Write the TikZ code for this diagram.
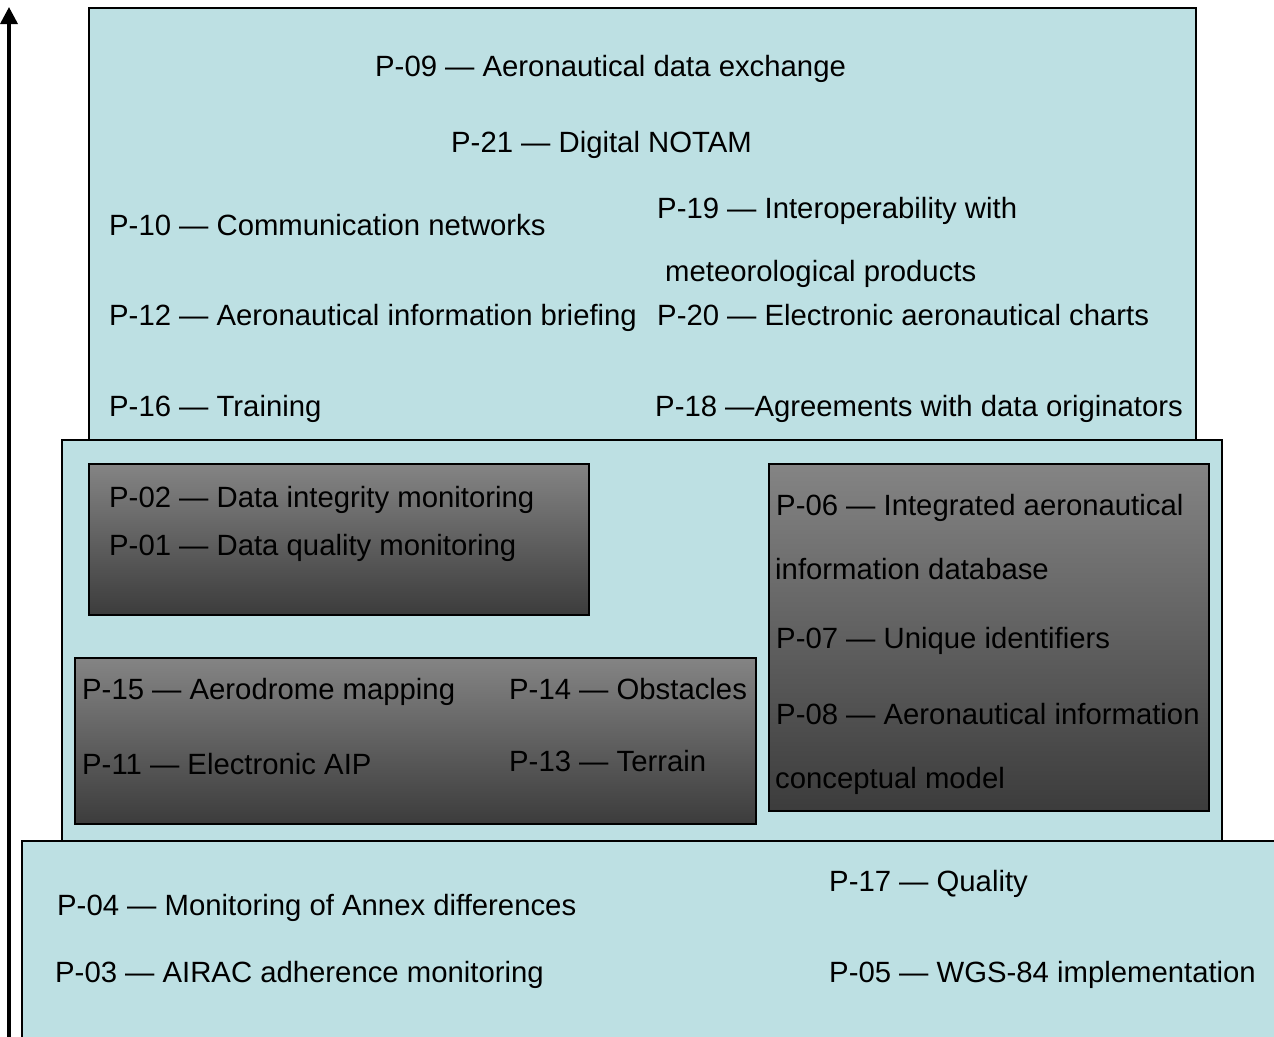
\documentclass[tikz,border=0pt]{standalone}
\usepackage{fontspec}
\setmainfont{Liberation Sans}
\usetikzlibrary{arrows.meta}
\definecolor{teal1}{RGB}{189,224,227}
\definecolor{gtop}{RGB}{132,132,132}
\definecolor{gbot}{RGB}{60,60,60}
\tikzset{
  lbox/.style={draw=black, line width=2pt, fill=teal1},
  dbox/.style={draw=black, line width=2pt, top color=gtop, bottom color=gbot},
  lbl/.style={anchor=base west, inner sep=0pt, text=black, font=\fontsize{29.3}{34}\selectfont},
}
\begin{document}
\begin{tikzpicture}[x=1pt,y=-1pt]
\useasboundingbox (0,0) rectangle (1274,1036);
% boxes
\path[lbox] (89,8) rectangle (1196,445);
\path[lbox] (62,440) rectangle (1222,845);
\path[lbox] (22,841) rectangle (1290,1050);
\path[dbox] (89,464) rectangle (589,615);
\path[dbox] (75,658) rectangle (756,824);
\path[dbox] (769,464) rectangle (1209,811);
% arrow
\coordinate (abot) at (9,1040);
\coordinate (atop) at (9,7);
\draw[line width=3.5pt, -{Triangle[width=17pt,length=17pt]}] (abot) -- (atop);
% top box texts
\node[lbl] (p09) at (375,76) {P-09 — Aeronautical data exchange};
\node[lbl] (p21) at (451,152) {P-21 — Digital NOTAM};
\node[lbl] (p10) at (109,235) {P-10 — Communication networks};
\node[lbl] (p19) at (657,218) {P-19 — Interoperability with};
\node[lbl] (p19b) at (665,281) {meteorological products};
\node[lbl] (p12) at (109,325) {P-12 — Aeronautical information briefing};
\node[lbl] (p20) at (657,325) {P-20 — Electronic aeronautical charts};
\node[lbl] (p16) at (109,416) {P-16 — Training};
\node[lbl] (p18) at (655,416) {P-18 —Agreements with data originators};
% middle
\node[lbl] (p02) at (109,507) {P-02 — Data integrity monitoring};
\node[lbl] (p01) at (109,555) {P-01 — Data quality monitoring};
\node[lbl] (p06) at (776,515) {P-06 — Integrated aeronautical};
\node[lbl] (p06b) at (775,579) {information database};
\node[lbl] (p07) at (776,648) {P-07 — Unique identifiers};
\node[lbl] (p08) at (776,724) {P-08 — Aeronautical information};
\node[lbl] (p08b) at (775,788) {conceptual model};
\node[lbl] (p15) at (82,699) {P-15 — Aerodrome mapping};
\node[lbl] (p14) at (509,699) {P-14 — Obstacles};
\node[lbl] (p11) at (82,774) {P-11 — Electronic AIP};
\node[lbl] (p13) at (509,771) {P-13 — Terrain};
% bottom
\node[lbl] (p04) at (57,915) {P-04 — Monitoring of Annex differences};
\node[lbl] (p03) at (55,982) {P-03 — AIRAC adherence monitoring};
\node[lbl] (p17) at (829,891) {P-17 — Quality};
\node[lbl] (p05) at (829,982) {P-05 — WGS-84 implementation};
\end{tikzpicture}
\end{document}
